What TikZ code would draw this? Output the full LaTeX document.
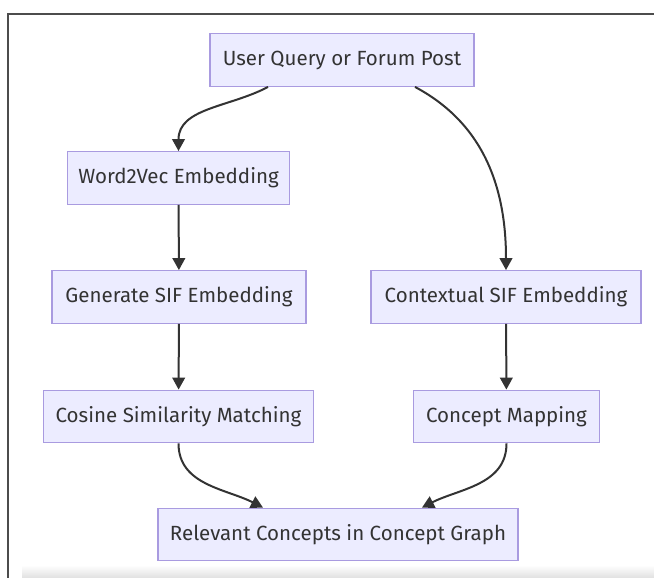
\documentclass[tikz,border=0pt]{standalone}
\usepackage{fontspec}
\setmainfont{Fira Sans}
\usetikzlibrary{arrows.meta,calc}
\definecolor{boxfill}{HTML}{ECECFF}
\definecolor{boxline}{HTML}{A99BE0}
\definecolor{ink}{HTML}{333333}

\begin{document}
\begin{tikzpicture}[x=0.75pt, y=0.75pt,
    stage/.style={draw=boxline, fill=boxfill, line width=0.9pt, text=ink,
      font=\fontsize{15.4}{18}\selectfont, inner sep=0pt, minimum height=39.5pt},
    flow/.style={draw=ink, line width=1.5pt, -{Triangle[length=9pt, width=9.5pt]}}]
        \useasboundingbox (0, 0) rectangle (654, -578);
        \shade[top color=white, bottom color=black!12] (22, -565) rectangle (654, -578);
        \draw[black!70, line width=0.8pt] (8, -578) -- (8, -14) -- (654, -14);

        \node[stage, minimum width=198pt] (query) at (342, -60) {User Query or Forum Post};
        \node[stage, minimum width=167pt] (wordvec) at (178.5, -178) {Word2Vec Embedding};
        \node[stage, minimum width=190.5pt] (gensif) at (179, -297) {Generate SIF Embedding};
        \node[stage, minimum width=202.5pt] (ctxsif) at (506, -297) {Contextual SIF Embedding};
        \node[stage, minimum width=203pt] (cosine) at (178.5, -416.5) {Cosine Similarity Matching};
        \node[stage, minimum width=139pt] (mapping) at (506.5, -416.5) {Concept Mapping};
        \node[stage, minimum width=270pt] (relevant) at (338, -534.5) {Relevant Concepts in Concept Graph};

        \draw[flow] ($(query.south)+(-74, 0)$) to[out=-152, in=90] (wordvec.north);
        \draw[flow] ($(query.south)+(73, 0)$) to[out=-28, in=90] (ctxsif.north);
        \draw[flow] (wordvec) -- (gensif);
        \draw[flow] (gensif) -- (cosine);
        \draw[flow] (ctxsif) -- (mapping);
        \draw[flow] (cosine.south) to[out=-90, in=153] ($(relevant.north)+(-75, 0)$);
        \draw[flow] (mapping.south) to[out=-90, in=27] ($(relevant.north)+(84, 0)$);
    \end{tikzpicture}
\end{document}
